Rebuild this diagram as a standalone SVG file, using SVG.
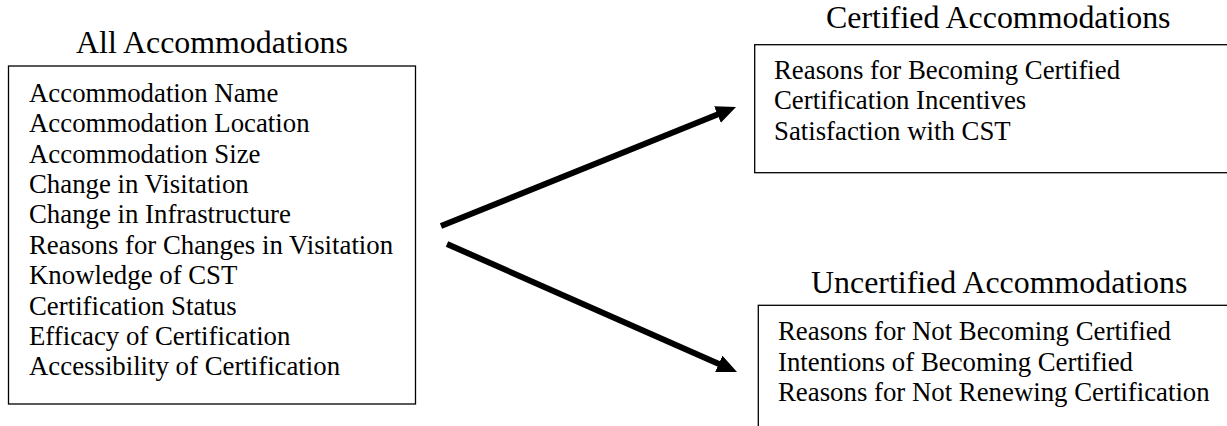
<svg xmlns="http://www.w3.org/2000/svg" width="1227" height="426" viewBox="0 0 1227 426">
<style>
.box{fill:#fff;stroke:#000;stroke-width:1.3}
.title{font-family:"Liberation Serif","Times New Roman",serif;font-size:31.9px;fill:#000}
.item{font-family:"Liberation Serif","Times New Roman",serif;font-size:26.8px;fill:#000}
.conn{stroke:#000;stroke-width:6;fill:none}
</style>
<defs>
<marker id="ah" markerUnits="userSpaceOnUse" markerWidth="22" markerHeight="20" viewBox="0 0 22 20" refX="4" refY="9" orient="auto">
<path d="M0,0 L20,9 L0,18 Z" fill="#000"/>
</marker>
</defs>
<rect width="1227" height="426" fill="#fff"/>
<g id="all">
<text class="title" x="76" y="53">All Accommodations</text>
<rect class="box" x="8.5" y="66" width="407" height="338"/>
<text class="item" x="29" y="101.7">Accommodation Name</text>
<text class="item" x="29" y="132.1">Accommodation Location</text>
<text class="item" x="29" y="162.5">Accommodation Size</text>
<text class="item" x="29" y="192.9">Change in Visitation</text>
<text class="item" x="29" y="223.3">Change in Infrastructure</text>
<text class="item" x="29" y="253.7">Reasons for Changes in Visitation</text>
<text class="item" x="29" y="284.1">Knowledge of CST</text>
<text class="item" x="29" y="314.5">Certification Status</text>
<text class="item" x="29" y="344.9">Efficacy of Certification</text>
<text class="item" x="29" y="375.3">Accessibility of Certification</text>
</g>
<g id="certified">
<text class="title" x="826" y="28.3">Certified Accommodations</text>
<rect class="box" x="754.7" y="44.7" width="490" height="128"/>
<text class="item" x="774" y="78.5">Reasons for Becoming Certified</text>
<text class="item" x="774" y="109.3">Certification Incentives</text>
<text class="item" x="774" y="140">Satisfaction with CST</text>
</g>
<g id="uncertified">
<text class="title" x="811" y="293">Uncertified Accommodations</text>
<rect class="box" x="758.3" y="305.3" width="490" height="140"/>
<text class="item" x="778" y="340">Reasons for Not Becoming Certified</text>
<text class="item" x="778" y="370.5">Intentions of Becoming Certified</text>
<text class="item" x="778" y="401">Reasons for Not Renewing Certification</text>
</g>
<g id="connectors">
<path class="conn" d="M441,226 L721.2,113" marker-end="url(#ah)"/>
<path class="conn" d="M447,244 L722.4,365.5" marker-end="url(#ah)"/>
</g>
</svg>
